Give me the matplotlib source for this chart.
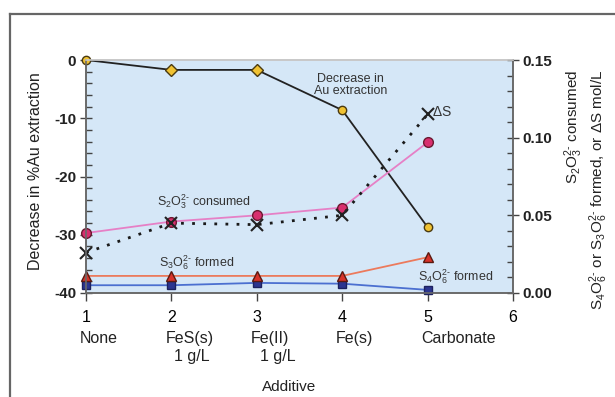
import numpy as np
import matplotlib.pyplot as plt
import matplotlib.transforms as mtransforms
from matplotlib.lines import Line2D

plt.rcParams['font.family'] = ['Liberation Sans', 'DejaVu Sans']
plt.rcParams['mathtext.fontset'] = 'custom'
plt.rcParams['mathtext.rm'] = 'Liberation Sans'
plt.rcParams['mathtext.it'] = 'Liberation Sans:italic'
plt.rcParams['axes.unicode_minus'] = False

# data
additive = [1, 2, 3, 4, 5]
additive_names = ['None', 'FeS(s)\n  1 g/L', 'Fe(II)\n  1 g/L', 'Fe(s)', 'Carbonate']
au_decrease = [0, -1.7, -1.7, -8.6, -28.7]
s2o3_consumed = [0.0386, 0.046, 0.050, 0.055, 0.097]
delta_s = [0.026, 0.045, 0.044, 0.050, 0.115]
s3o6_formed = [0.011, 0.011, 0.011, 0.011, 0.023]
s4o6_formed = [0.005, 0.005, 0.0065, 0.006, 0.002]

fig = plt.figure(figsize=(6.15, 3.97), dpi=100)
ax = fig.add_axes([86/615, 1-293/397, (513-86)/615, (293-60)/397])
ax.set_facecolor('#d5e7f7')
ax2 = ax.twinx()

# left axis: Au extraction
ax.plot(additive, au_decrease, color='#222222', lw=1.3, zorder=3)
ax.plot([additive[i] for i in (0, 3, 4)], [au_decrease[i] for i in (0, 3, 4)],
        ls='none', marker='o', ms=6, mfc='#f0c232', mec='#4a3a10', mew=1,
        zorder=4, clip_on=False)
ax.plot(additive[1:3], au_decrease[1:3], ls='none', marker='D', ms=6,
        mfc='#f0c232', mec='#4a3a10', mew=1, zorder=4, clip_on=False)

# right axis: sulfur species
ax2.plot(additive, s4o6_formed, color='#4b6fd0', lw=1.3, marker='s', ms=6,
         mfc='#2b3590', mec='#1c2260', clip_on=False)
ax2.plot(additive, s3o6_formed, color='#ec7a5c', lw=1.3, marker='^', ms=7,
         mfc='#d8332a', mec='#5a1a10', clip_on=False)
ax2.plot(additive, s2o3_consumed, color='#e680c6', lw=1.3, marker='o', ms=7,
         mfc='#d82f6e', mec='#6a1a30', clip_on=False)
ax2.plot(additive, delta_s, color='#1a1a1a', lw=2, ls=(0, (1, 3)), marker='x', ms=8,
         mec='#222222', mew=1.5, clip_on=False)

ax.set_xlim(1, 6)
ax.set_ylim(-40, 0)
ax2.set_ylim(0, 0.15)

ax.set_xticks([1, 2, 3, 4, 5, 6])
ax.set_yticks([0, -10, -20, -30, -40])
ax.set_yticks(np.arange(-40, 1, 2), minor=True)
ax2.set_yticks([0, 0.05, 0.10, 0.15])
ax2.set_yticklabels(['0.00', '0.05', '0.10', '0.15'])
ax2.set_yticks(np.arange(0, 0.151, 0.01), minor=True)

for a in (ax, ax2):
    for s in a.spines.values():
        s.set_color('#6a6a6a')
        s.set_linewidth(1.2)
    a.spines['top'].set_color('#c8c8c8')
ax.tick_params(axis='y', which='major', direction='inout', length=8, width=1,
               color='#444444', labelsize=11, pad=3)
ax.tick_params(axis='y', which='minor', direction='in', length=4, width=1, color='#444444')
ax.tick_params(axis='x', which='major', direction='out', length=6, width=1,
               color='#444444', labelsize=11.5, pad=6)
ax2.tick_params(axis='y', which='major', direction='inout', length=8, width=1,
                color='#444444', labelsize=11, pad=3)
ax2.tick_params(axis='y', which='minor', direction='in', length=4, width=1, color='#444444')
for lbl in ax.get_yticklabels() + ax2.get_yticklabels():
    lbl.set_fontweight('bold')
    lbl.set_color('#222222')

# additive names under tick numbers
offset = mtransforms.ScaledTranslation(-0.06, 0, fig.dpi_scale_trans)
trans = mtransforms.blended_transform_factory(ax.transData, ax.transAxes) + offset
for x, name in zip(additive, additive_names):
    ax.text(x, -0.165, name, transform=trans, ha='left', va='top',
            fontsize=11.5, linespacing=1.25, color='#222222')

ax.text(0.475, -0.375, 'Additive', transform=ax.transAxes, ha='center', va='top',
        fontsize=11, color='#222222')
fig.text(36/615, 1-171/397, 'Decrease in %Au extraction', rotation=90,
         ha='center', va='center', fontsize=11.5, color='#222222')
fig.text(574/615, 1-70/397, r'$\mathrm{S_2O_3^{2\text{-}}}$ consumed', rotation=90,
         ha='center', va='top', fontsize=11, color='#222222')
fig.text(599/615, 1-70/397,
         r'$\mathrm{S_4O_6^{2\text{-}}}$ or $\mathrm{S_3O_6^{2\text{-}}}$ formed, or $\Delta$S mol/L',
         rotation=90, ha='center', va='top', fontsize=11, color='#222222')

# in-plot annotations
ax.text(4.1, -4.3, 'Decrease in\nAu extraction', ha='center', va='center',
        fontsize=9, color='#333333', linespacing=1.1)
ax2.text(5.05, 0.1165, r'$\Delta$S', ha='left', va='center', fontsize=10, color='#333333')
ax2.text(2.38, 0.0586, r'$\mathrm{S_2O_3^{2\text{-}}}$ consumed', ha='center', va='center',
         fontsize=9, color='#333333')
ax2.text(2.30, 0.0193, r'$\mathrm{S_3O_6^{2\text{-}}}$ formed', ha='center', va='center',
         fontsize=9, color='#333333')
ax2.text(5.33, 0.0103, r'$\mathrm{S_4O_6^{2\text{-}}}$ formed', ha='center', va='center',
         fontsize=9, color='#333333')

# outer frame
fig.add_artist(Line2D([10/615, 10/615], [0, 1-14/397], color='#666666', lw=1.6))
fig.add_artist(Line2D([10/615, 1], [1-14/397, 1-14/397], color='#666666', lw=1.6))

fig.savefig('out.png', dpi=100)
